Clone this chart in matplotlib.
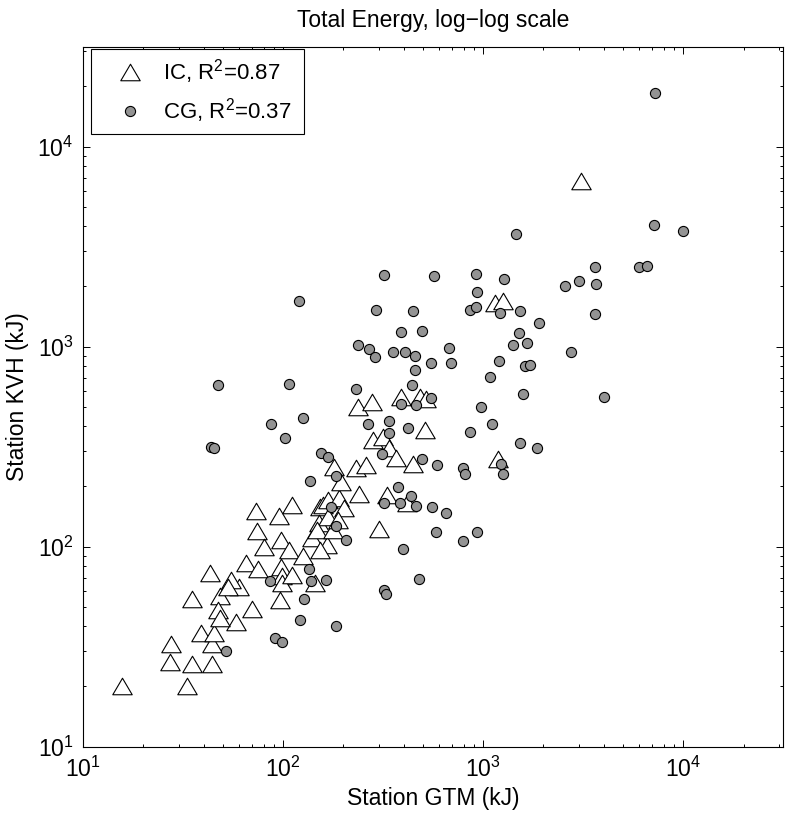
import matplotlib
matplotlib.use("Agg")
import matplotlib.pyplot as plt
from matplotlib.path import Path
from matplotlib.ticker import NullFormatter, LogLocator

plt.rcParams['font.family'] = ['Liberation Sans', 'DejaVu Sans']
plt.rcParams['mathtext.fontset'] = 'custom'
plt.rcParams['mathtext.rm'] = 'Liberation Sans'
plt.rcParams['mathtext.it'] = 'Liberation Sans:italic'
plt.rcParams['mathtext.bf'] = 'Liberation Sans:bold'

# IC (intracloud) points: (GTM, KVH) energies in kJ
ic_x = [15.6, 33, 27, 27.5, 35, 44, 35, 43, 39, 44, 45,
        73, 95, 111, 74, 80, 97, 107, 126, 153, 151, 139, 165,
        65, 75, 97, 99, 98, 144, 96, 70, 58, 60, 55, 48, 47, 48, 53, 110,
        180, 158, 168, 147, 178, 153, 168, 190, 201, 188, 194, 238, 230, 258,
        237, 278, 280, 316, 336, 366, 447, 301, 329, 417,
        386, 480, 520, 513, 1180, 1140, 1260, 3070]
ic_y = [20.2, 20.2, 26.4, 32.5, 25.8, 25.8, 55, 74, 37, 32.6, 37,
        151, 143, 162, 120, 100, 108, 96, 90, 158, 131, 110, 102,
        83, 77, 79, 71, 66, 66, 54, 49, 42, 63, 68, 57, 48, 44, 63, 72,
        249, 162, 141, 121, 121, 96, 171, 175, 156, 136, 210, 183, 247, 256,
        500, 531, 340, 352, 310, 277, 259, 122, 181, 165,
        558, 562, 550, 383, 275, 1660, 1700, 6700]

# CG (cloud-to-ground) points
cg_x = [7200, 7100, 10000, 3600, 6000, 6600, 3000, 2560, 3650, 3630, 2750, 4000,
        1460, 320, 570, 915, 1265, 930, 860, 920, 1215, 1525, 447, 1890,
        390, 495, 1500, 1410, 1655, 352, 406, 455, 674, 690, 546, 457, 1200,
        1080, 1610, 1710, 1575, 442, 386, 462, 546, 975, 339, 422, 336, 855,
        1100, 1530, 1860, 1230, 1260, 788, 810, 587, 495, 310, 375, 433, 319,
        383, 462, 554, 651, 578, 933, 794, 398, 477, 319, 326, 206, 163, 137,
        135, 127, 121, 183, 91, 98, 86, 52, 120, 47, 107, 87, 125, 102, 43.5,
        45, 237, 269, 286, 231, 266, 154, 167, 136, 183, 173, 183, 291]
cg_y = [18500, 4060, 3800, 2490, 2500, 2520, 2140, 2000, 2050, 1450, 940, 560,
        3660, 2280, 2250, 2310, 2170, 1870, 1530, 1585, 1470, 1500, 1500, 1310,
        1190, 1200, 1165, 1020, 1045, 940, 937, 900, 982, 832, 830, 762, 845,
        708, 800, 810, 582, 643, 519, 509, 552, 500, 427, 392, 370, 375,
        409, 330, 310, 259, 232, 248, 231, 256, 274, 290, 198, 180, 165,
        165, 159, 158, 147, 119, 118, 107, 97, 69, 61, 58, 108, 68, 67,
        77, 55, 43, 40, 35, 33.5, 67, 30, 1700, 643, 651, 410, 440, 348, 314,
        311, 1020, 974, 888, 612, 412, 295, 282, 214, 226, 158, 127, 1526]

labels = ['IC, R$^{2}$=0.87', 'CG, R$^{2}$=0.37']

fig = plt.figure(figsize=(7.87, 8.18), dpi=100)
ax = fig.add_axes([0.1058, 0.0872, 0.8895, 0.8557])

tri = Path([(0, 0.85), (-1, -0.85), (1, -0.85), (0, 0.85)],
           [Path.MOVETO, Path.LINETO, Path.LINETO, Path.CLOSEPOLY])

ax.plot(ic_x, ic_y, linestyle='none', marker=tri, ms=14, mfc='white',
        mec='black', mew=0.8, label=labels[0])
ax.plot(cg_x, cg_y, linestyle='none', marker='o', ms=7.3, mfc='#939393',
        mec='black', mew=0.8, label=labels[1])

ax.set_xscale('log')
ax.set_yscale('log')
ax.set_xlim(10, 10 ** 4.5)
ax.set_ylim(10, 10 ** 4.5)
for axis in (ax.xaxis, ax.yaxis):
    axis.set_major_locator(LogLocator(base=10, numticks=10))
    axis.set_minor_locator(LogLocator(base=10, subs=range(2, 10), numticks=20))
    axis.set_minor_formatter(NullFormatter())

ax.tick_params(which='both', direction='in', top=True, right=True,
               labelsize=16.5, width=0.7)
ax.tick_params(which='major', length=4.8, pad=7)
ax.tick_params(which='minor', length=2.4)
for s in ax.spines.values():
    s.set_linewidth(0.8)

ax.set_title('Total Energy, log\u2212log scale', fontsize=16.5, pad=14)
ax.set_xlabel('Station GTM (kJ)', fontsize=16.5, labelpad=4)
ax.set_ylabel('Station KVH (kJ)', fontsize=16.5, labelpad=6)

leg = ax.legend(loc='upper left', bbox_to_anchor=(8 / 700, 1 - 9 / 700, 213 / 700, 0.01),
                mode='expand', borderaxespad=0, fontsize=16, fancybox=False,
                edgecolor='black', framealpha=1, borderpad=0.4, labelspacing=0.45,
                handlelength=2.7, handletextpad=0.15)
leg.get_frame().set_linewidth(0.8)

fig.savefig('out.png', dpi=100)
